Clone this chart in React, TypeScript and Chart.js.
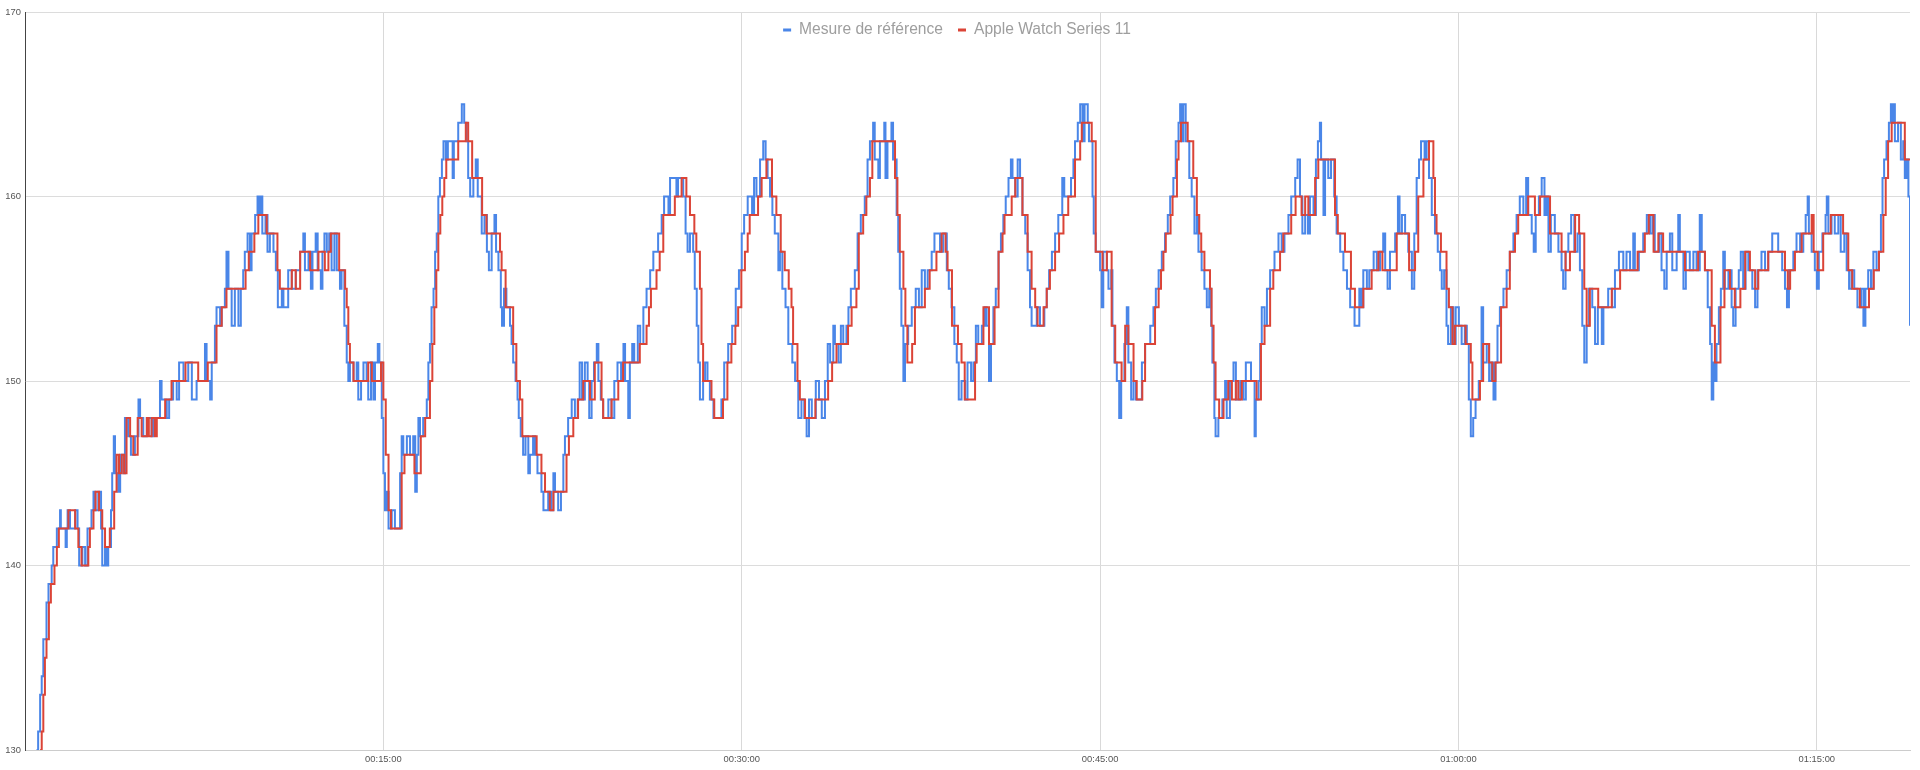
import { useEffect, useRef } from "react";
import { Chart, registerables } from "chart.js";

Chart.register(...registerables);

// [seconds since start, bpm] change points
const referenceSamples: [number, number][] = [
  [29,130],[33,131],[38,133],[42,134],[46,136],[54,138],[59,139],[67,140],[71,141],[80,142],[88,143],[90,142],[102,141],[105,142],[107,143],[113,142],[126,143],[132,142],[136,140],[144,141],[151,140],[157,142],[167,143],[172,144],[177,143],[184,144],[191,142],[194,140],[201,141],[204,140],[209,141],[216,143],[219,145],[223,147],[226,145],[234,144],[239,146],[247,145],[251,148],[259,147],[266,146],[276,147],[285,149],[289,148],[297,147],[306,148],[318,147],[322,148],[339,150],[343,149],[356,148],[362,149],[372,150],[381,149],[387,151],[398,150],[410,151],[419,149],[431,150],[452,152],[456,150],[465,149],[469,151],[477,153],[481,154],[490,153],[494,154],[502,155],[506,157],[511,155],[519,153],[527,155],[536,153],[542,155],[548,156],[552,157],[559,158],[565,156],[569,158],[578,159],[584,160],[588,159],[591,160],[596,158],[604,159],[609,157],[615,158],[624,157],[630,156],[635,154],[645,155],[649,154],[661,156],[670,155],[680,156],[691,157],[699,158],[703,156],[712,157],[718,155],[722,157],[730,158],[735,156],[743,155],[747,157],[752,158],[758,157],[764,158],[770,156],[777,158],[783,156],[791,155],[795,156],[802,153],[808,151],[812,150],[816,151],[825,150],[833,151],[837,149],[844,150],[850,151],[858,150],[862,149],[869,151],[875,149],[879,151],[886,152],[890,151],[896,148],[900,145],[904,143],[908,144],[913,142],[921,143],[929,142],[942,145],[946,147],[950,146],[959,147],[967,146],[975,147],[980,144],[984,146],[988,148],[992,147],[1000,148],[1009,149],[1013,151],[1017,152],[1021,154],[1026,155],[1030,157],[1034,158],[1038,160],[1042,161],[1047,162],[1051,163],[1057,162],[1062,163],[1074,161],[1077,163],[1088,164],[1097,165],[1103,164],[1109,163],[1113,161],[1118,160],[1126,161],[1132,162],[1137,160],[1147,158],[1154,159],[1160,157],[1165,156],[1172,158],[1179,159],[1183,157],[1189,156],[1195,154],
  [1198,153],[1203,155],[1209,154],[1218,153],[1222,152],[1226,151],[1232,150],[1237,149],[1240,148],[1245,147],[1251,146],[1257,147],[1264,145],[1268,146],[1276,147],[1281,146],[1287,145],[1297,144],[1302,143],[1314,144],[1321,143],[1327,145],[1331,144],[1339,143],[1346,144],[1352,146],[1356,147],[1364,148],[1373,149],[1381,148],[1388,149],[1393,151],[1399,149],[1406,151],[1413,150],[1417,148],[1423,150],[1429,151],[1436,152],[1440,150],[1446,149],[1452,148],[1465,149],[1473,148],[1480,150],[1488,151],[1497,150],[1503,152],[1507,150],[1515,148],[1519,151],[1525,152],[1530,151],[1539,153],[1545,152],[1553,154],[1561,155],[1570,156],[1578,157],[1590,158],[1599,159],[1605,160],[1616,159],[1620,161],[1636,160],[1640,161],[1653,160],[1659,158],[1664,157],[1670,158],[1678,157],[1682,155],[1687,153],[1691,151],[1695,149],[1703,150],[1708,151],[1714,150],[1720,149],[1729,148],[1749,149],[1756,151],[1766,152],[1776,153],[1785,155],[1793,156],[1800,158],[1806,159],[1815,160],[1826,159],[1831,161],[1837,160],[1846,162],[1854,163],[1860,162],[1865,161],[1871,160],[1877,159],[1883,158],[1892,156],[1896,157],[1902,155],[1910,154],[1917,152],[1927,151],[1934,150],[1942,148],[1950,149],[1957,148],[1963,147],[1969,149],[1976,148],[1986,150],[1994,149],[2001,148],[2009,150],[2016,152],[2022,151],[2030,153],[2034,152],[2043,151],[2049,153],[2055,152],[2063,153],[2068,154],[2074,155],[2084,156],[2091,158],[2099,159],[2109,160],[2116,162],[2122,163],[2130,164],[2134,162],[2143,161],[2147,163],[2158,164],[2161,161],[2166,163],[2176,164],[2180,162],[2189,159],[2193,157],[2197,155],[2201,153],[2206,150],[2210,152],[2218,153],[2227,154],[2237,155],[2245,154],[2252,156],[2260,155],[2267,156],[2277,157],[2284,158],[2298,157],[2306,158],[2315,156],[2320,155],[2327,154],[2334,152],[2340,151],[2345,149],[2352,150],[2361,149],[2367,151],[2376,150],
  [2382,151],[2388,153],[2394,152],[2403,153],[2410,154],[2415,153],[2421,150],[2426,152],[2432,154],[2438,155],[2445,157],[2451,158],[2457,159],[2463,160],[2470,161],[2476,162],[2480,161],[2487,160],[2493,162],[2499,161],[2505,159],[2512,158],[2518,156],[2524,154],[2528,153],[2541,154],[2549,153],[2560,154],[2566,155],[2572,156],[2579,157],[2587,158],[2595,159],[2605,161],[2610,160],[2627,161],[2633,162],[2637,163],[2644,164],[2650,165],[2656,163],[2661,165],[2669,164],[2672,163],[2681,160],[2684,158],[2689,157],[2700,156],[2704,154],[2708,157],[2717,156],[2721,155],[2728,156],[2731,153],[2736,151],[2742,150],[2748,148],[2753,150],[2761,152],[2767,154],[2771,151],[2778,149],[2784,150],[2790,149],[2805,151],[2813,152],[2826,153],[2834,154],[2840,155],[2847,156],[2855,157],[2863,158],[2870,159],[2876,160],[2884,161],[2890,163],[2897,164],[2901,165],[2905,163],[2909,165],[2915,163],[2924,161],[2930,160],[2937,158],[2943,159],[2947,157],[2955,156],[2962,155],[2968,154],[2974,155],[2979,153],[2982,151],[2987,148],[2990,147],[2997,148],[3007,149],[3014,150],[3018,148],[3026,150],[3035,151],[3041,149],[3052,150],[3060,149],[3066,151],[3079,150],[3088,147],[3091,149],[3098,150],[3102,152],[3106,154],[3113,153],[3119,155],[3127,156],[3138,157],[3148,158],[3156,157],[3163,158],[3173,159],[3180,160],[3190,161],[3196,162],[3202,160],[3208,158],[3215,159],[3222,158],[3227,160],[3236,159],[3242,162],[3247,163],[3252,164],[3255,162],[3261,159],[3265,162],[3273,161],[3280,162],[3288,160],[3294,158],[3303,157],[3311,156],[3320,155],[3328,154],[3339,153],[3351,155],[3356,154],[3361,156],[3370,155],[3376,156],[3387,157],[3395,156],[3403,157],[3411,158],[3416,156],[3422,155],[3428,157],[3441,158],[3448,160],[3452,158],[3458,159],[3466,158],[3474,157],[3483,155],[3489,158],[3495,161],[3501,162],[3506,163],[3515,162],[3520,163],[3526,161],[3533,159],[3541,158],[3548,157],[3554,156],
  [3558,155],[3564,156],[3570,153],[3574,152],[3581,154],[3587,152],[3593,154],[3601,153],[3608,152],[3616,153],[3621,152],[3626,149],[3631,147],[3637,148],[3643,149],[3651,150],[3658,154],[3662,151],[3671,152],[3677,150],[3683,151],[3688,149],[3693,151],[3698,153],[3704,154],[3713,155],[3721,156],[3729,157],[3738,158],[3746,159],[3754,160],[3763,159],[3770,161],[3775,159],[3784,158],[3789,157],[3794,159],[3802,160],[3809,161],[3816,159],[3821,160],[3826,157],[3832,159],[3842,158],[3851,157],[3859,156],[3863,155],[3869,157],[3876,158],[3883,159],[3891,157],[3899,158],[3905,156],[3911,153],[3916,151],[3922,153],[3928,155],[3936,154],[3943,152],[3950,154],[3960,152],[3964,154],[3976,155],[3986,154],[3993,156],[4003,157],[4014,156],[4022,157],[4031,156],[4039,158],[4043,156],[4053,157],[4064,158],[4073,159],[4081,158],[4087,159],[4093,157],[4104,158],[4110,156],[4117,155],[4123,157],[4131,158],[4137,156],[4148,157],[4152,159],[4156,157],[4165,155],[4171,157],[4181,156],[4190,157],[4198,156],[4206,159],[4211,157],[4219,156],[4226,154],[4232,152],[4236,149],[4240,151],[4244,150],[4248,152],[4254,154],[4259,155],[4265,157],[4269,155],[4278,156],[4286,154],[4290,153],[4296,155],[4304,156],[4309,157],[4315,155],[4321,157],[4328,156],[4338,155],[4345,154],[4351,156],[4361,157],[4370,156],[4378,157],[4388,158],[4403,157],[4413,156],[4420,155],[4425,154],[4430,156],[4441,157],[4449,158],[4458,157],[4466,158],[4472,159],[4477,160],[4480,158],[4487,157],[4495,156],[4500,155],[4505,157],[4514,158],[4522,159],[4525,160],[4529,158],[4537,159],[4545,158],[4554,159],[4560,157],[4569,158],[4575,156],[4581,155],[4587,156],[4594,155],[4602,154],[4611,155],[4617,153],[4622,155],[4629,156],[4636,155],[4642,157],[4650,156],[4656,157],[4661,159],[4665,161],[4669,162],[4675,163],[4681,164],[4686,165],[4689,164],[4693,165],[4696,163],[4704,164],[4711,162],[4717,163],[4721,161],[4725,162],[4730,160],[4734,153],
];

const watchSamples: [number, number][] = [
  [38,130],[42,131],[46,133],[50,135],[54,136],[60,138],[65,139],[74,140],[80,141],[85,142],[109,143],[126,142],[134,141],[142,140],[159,141],[163,142],[172,143],[177,144],[186,143],[194,142],[201,141],[213,142],[224,144],[230,146],[236,145],[243,146],[249,145],[255,148],[264,147],[272,146],[283,148],[293,147],[306,148],[311,147],[318,148],[326,147],[331,148],[352,149],[368,150],[403,151],[435,150],[459,151],[481,153],[494,154],[506,155],[554,156],[562,157],[576,158],[586,159],[607,158],[634,156],[640,155],[670,156],[680,155],[691,157],[716,156],[737,157],[753,156],[762,157],[768,158],[789,156],[804,155],[808,154],[812,152],[816,151],[825,150],[862,151],[871,150],[894,151],[900,149],[906,146],[913,143],[919,142],[946,145],[953,146],[978,145],[994,147],[1005,148],[1017,150],[1023,152],[1028,154],[1033,156],[1038,158],[1043,159],[1048,160],[1053,161],[1058,162],[1088,163],[1107,164],[1113,163],[1123,161],[1148,159],[1159,158],[1193,157],
  [1197,156],[1207,154],[1226,152],[1234,150],[1243,149],[1249,147],[1285,146],[1297,145],[1306,144],[1318,143],[1327,144],[1360,146],[1366,147],[1377,148],[1389,149],[1402,150],[1419,149],[1431,151],[1448,149],[1452,148],[1473,149],[1490,150],[1502,151],[1544,152],[1561,153],[1567,154],[1572,155],[1586,156],[1594,157],[1603,159],[1632,160],[1649,161],[1661,160],[1670,159],[1681,158],[1686,157],[1695,155],[1699,152],[1703,150],[1724,149],[1731,148],[1753,149],[1764,151],[1774,152],[1784,153],[1791,154],[1799,156],[1808,157],[1815,158],[1820,159],[1841,160],[1850,161],[1862,162],[1876,160],[1887,159],[1898,157],[1908,156],[1918,155],[1925,154],[1929,152],[1940,150],[1946,149],[1959,148],[1985,149],[2017,150],[2027,151],[2038,152],[2067,153],[2076,154],[2088,155],[2094,158],[2105,159],[2113,160],[2122,161],[2128,163],[2185,161],[2191,159],[2197,157],[2206,155],[2211,153],[2216,151],[2228,152],[2235,154],[2260,155],[2272,156],[2289,157],[2302,158],[2312,157],[2317,156],[2328,153],[2343,152],[2352,151],[2360,149],
  [2386,151],[2390,152],[2407,154],[2421,152],[2435,154],[2445,157],[2455,158],[2460,159],[2478,160],[2487,161],[2505,159],[2518,157],[2528,155],[2537,154],[2543,153],[2558,154],[2566,155],[2574,156],[2587,157],[2597,158],[2608,159],[2620,160],[2637,162],[2650,163],[2654,164],[2679,163],[2689,157],[2706,156],[2717,157],[2729,153],[2738,151],[2754,150],[2763,153],[2771,152],[2784,150],[2792,149],[2806,150],[2813,152],[2838,154],[2847,155],[2853,156],[2859,157],[2865,158],[2877,159],[2882,160],[2893,162],[2897,163],[2903,164],[2920,163],[2934,161],[2943,159],[2949,158],[2954,157],[2962,156],[2976,155],[2980,153],[2985,151],[2990,149],[2999,148],[3010,149],[3022,150],[3031,149],[3041,150],[3047,149],[3056,150],[3093,149],[3104,152],[3113,153],[3127,155],[3135,156],[3152,157],[3160,158],[3180,159],[3191,160],[3206,159],[3215,160],[3223,159],[3240,161],[3248,162],[3290,159],[3297,158],[3315,157],[3330,155],[3340,154],[3361,155],[3382,156],[3399,157],[3409,156],[3445,158],[3476,156],[3491,157],[3499,160],[3512,162],[3526,163],[3537,161],[3541,159],[3545,158],[3556,157],
  [3570,155],[3576,154],[3585,152],[3591,153],[3618,152],[3631,151],[3635,149],[3654,150],[3662,152],[3677,151],[3685,150],[3693,151],[3707,154],[3721,155],[3729,157],[3742,158],[3750,159],[3775,160],[3792,159],[3805,160],[3830,158],[3859,157],[3869,156],[3880,157],[3893,159],[3903,158],[3916,155],[3922,153],[3930,155],[3951,154],[3985,155],[4006,156],[4050,157],[4068,158],[4078,159],[4090,157],[4102,158],[4114,157],[4169,156],[4202,157],[4219,156],[4236,153],[4244,151],[4258,154],[4268,156],[4282,155],[4294,154],[4308,155],[4320,157],[4332,156],[4345,155],[4353,156],[4378,157],[4420,156],[4427,155],[4433,156],[4445,157],[4462,158],[4487,159],[4492,157],[4502,156],[4516,158],[4535,159],[4566,158],[4579,156],[4589,155],[4608,154],[4631,155],[4643,156],[4656,157],[4667,159],[4673,161],[4679,163],[4688,164],[4721,162],[4734,162],
];

const seriesLabels = ["Mesure de référence", "Apple Watch Series 11"];
const seriesColors = ["#4a86e8", "#db4437"];
const timeTicks = [900, 1800, 2700, 3600, 4500];
const bpmTicks = [130, 140, 150, 160, 170];
const durationSec = 4734;

const FONT = '"Liberation Sans", Arial, sans-serif';

function hms(sec: number) {
  const h = Math.floor(sec / 3600);
  const m = Math.floor((sec % 3600) / 60);
  const s = Math.floor(sec % 60);
  return [h, m, s].map((v) => String(v).padStart(2, "0")).join(":");
}

// legend drawn inside the plot, like the original
const insideLegend = {
  id: "insideLegend",
  afterDraw(chart: any) {
    const ctx = chart.ctx;
    const items = chart.data.datasets.map((d: any) => ({ text: String(d.label), color: String(d.borderColor) }));
    ctx.save();
    ctx.font = `15.6px ${FONT}`;
    ctx.textBaseline = "middle";
    const widths = items.map((it: any) => 16 + ctx.measureText(it.text).width);
    const total = widths.reduce((a: number, b: number) => a + b, 0) + 15 * (items.length - 1);
    let x = chart.width / 2 - 3 - total / 2;
    const y = 30;
    items.forEach((it: any, i: number) => {
      ctx.fillStyle = it.color;
      ctx.fillRect(x, y - 1.5, 8, 3);
      ctx.fillStyle = "#9e9e9e";
      ctx.fillText(it.text, x + 16, y);
      x += widths[i] + 15;
    });
    ctx.restore();
  },
};

export default function App() {
  const ref = useRef<HTMLCanvasElement | null>(null);

  useEffect(() => {
    document.body.style.margin = "0";
    if (!ref.current) return;
    const ch = new Chart(ref.current, {
      type: "line",
      data: {
        datasets: [
          {
            label: seriesLabels[0],
            data: referenceSamples.map(([x, y]) => ({ x, y })),
            borderColor: seriesColors[0],
            backgroundColor: seriesColors[0],
            borderWidth: 2,
            pointRadius: 0,
            stepped: true,
            order: 1,
          },
          {
            label: seriesLabels[1],
            data: watchSamples.map(([x, y]) => ({ x, y })),
            borderColor: seriesColors[1],
            backgroundColor: seriesColors[1],
            borderWidth: 2,
            pointRadius: 0,
            stepped: true,
            order: 0,
          },
        ],
      },
      options: {
        animation: false,
        responsive: false,
        layout: { padding: { top: 12, right: 10, left: 0, bottom: 0 } },
        plugins: { legend: { display: false }, tooltip: { enabled: false } },
        scales: {
          x: {
            type: "linear",
            min: 0,
            max: durationSec,
            afterBuildTicks: (s: any) => { s.ticks = timeTicks.map((value) => ({ value })); },
            afterFit: (s: any) => { s.height = 20; },
            ticks: {
              callback: (v: any) => hms(Number(v)),
              color: "#555",
              font: { family: FONT, size: 9.4 },
              padding: 4,
              maxRotation: 0,
              autoSkip: false,
            },
            grid: { color: "#d9d9d9", drawTicks: false },
            border: { color: "#cccccc" },
          },
          y: {
            min: bpmTicks[0],
            max: bpmTicks[bpmTicks.length - 1],
            afterBuildTicks: (s: any) => { s.ticks = bpmTicks.map((value) => ({ value })); },
            afterFit: (s: any) => { s.width = 25; },
            ticks: {
              color: "#555",
              font: { family: FONT, size: 9.4 },
              padding: 4,
            },
            grid: { color: "#dcdcdc", drawTicks: false },
            border: { display: true, color: "#444", width: 1 },
          },
        },
      },
      plugins: [insideLegend],
    });
    return () => ch.destroy();
  }, []);

  return (
    <div style={{ width: 1920, height: 770 }}>
      <canvas ref={ref} width={1920} height={770} style={{ display: "block" }}></canvas>
    </div>
  );
}
